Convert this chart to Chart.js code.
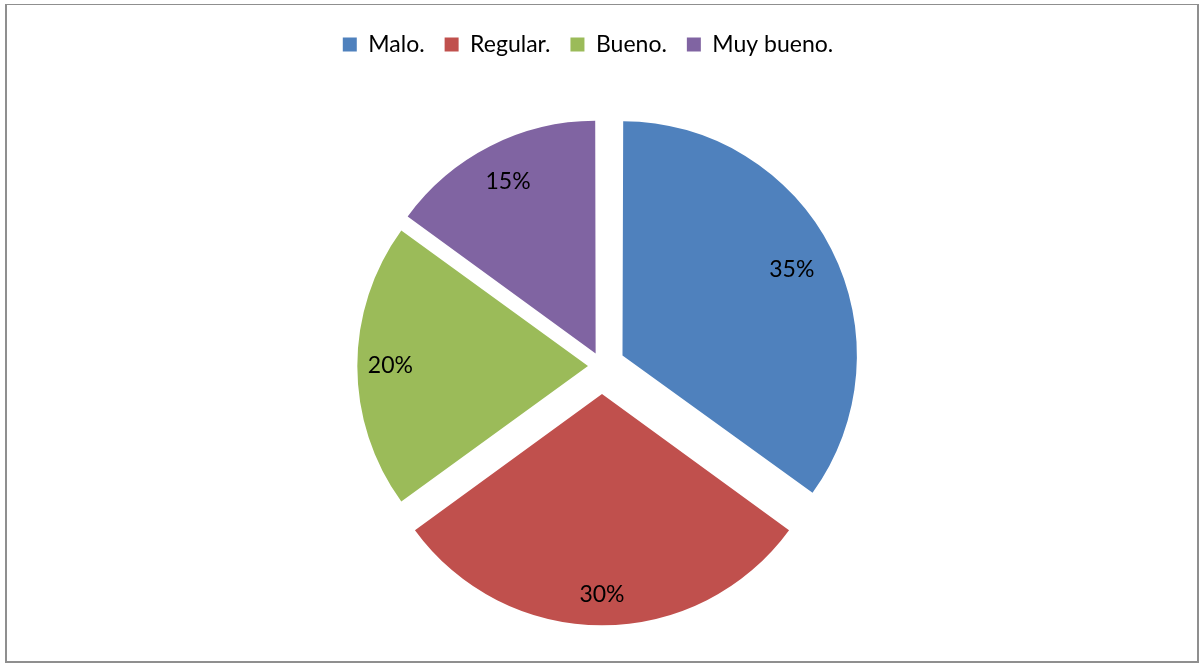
<!DOCTYPE html>
<html>
<head>
<meta charset="utf-8">
<script src="https://cdn.jsdelivr.net/npm/chart.js@4/dist/chart.umd.min.js"></script>
<style>
  html, body { margin: 0; padding: 0; background: #fff; overflow: hidden; }
  #wrap { position: relative; width: 1201px; height: 664px; }
  #chart { position: absolute; left: 0; top: 0; }
  #frame {
    position: absolute; left: 5px; top: 4px; width: 1194px; height: 659px;
    box-sizing: border-box; border-style: solid; border-color: #8f8f8f;
    border-width: 1px 2px 2px 2px; pointer-events: none;
  }
</style>
</head>
<body>
<div id="wrap">
  <canvas id="chart" width="1201" height="666"></canvas>
  <div id="frame"></div>
</div>
<script>
  const categories = ["Malo.", "Regular.", "Bueno.", "Muy bueno."];
  const values = [35, 30, 20, 15];
  const colors = ["#4f81bd", "#c0504d", "#9bbb59", "#8064a2"];

  // exploded slices: chart.js moves an arc by offset / 4
  const sliceOffsets = [92, 112, 56, 56];

  const pctLabels = {
    id: "pctLabels",
    afterDatasetsDraw(chart, args, opts) {
      const ctx = chart.ctx;
      const meta = chart.getDatasetMeta(0);
      const total = values.reduce((a, b) => a + b, 0);
      ctx.save();
      ctx.font = "23px Lato";
      ctx.fillStyle = "#000";
      ctx.textAlign = "center";
      ctx.textBaseline = "middle";
      meta.data.forEach((arc, i) => {
        const p = arc.getProps(["x", "y", "startAngle", "endAngle", "outerRadius"], true);
        const mid = (p.startAngle + p.endAngle) / 2;
        const shift = (arc.options.offset || 0) / 4;
        const r = p.outerRadius * opts.radius[i] + shift;
        const x = p.x + Math.cos(mid) * r;
        const y = p.y + Math.sin(mid) * r;
        ctx.fillText(Math.round(values[i] / total * 100) + "%", x, y);
      });
      ctx.restore();
    }
  };

  // legend in the original sits a little left of the pie centre
  const legendShift = {
    id: "legendShift",
    afterLayout(chart, args, opts) {
      if (chart.legend) {
        chart.legend.left -= opts.dx;
      }
    }
  };

  Chart.defaults.font.family = "Lato";
  Chart.defaults.color = "#000";

  new Chart(document.getElementById("chart"), {
    type: "pie",
    data: {
      labels: categories,
      datasets: [{
        data: values,
        backgroundColor: colors,
        borderWidth: 0,
        offset: sliceOffsets,
        hoverOffset: 0
      }]
    },
    options: {
      responsive: false,
      animation: false,
      devicePixelRatio: 1,
      radius: 230,
      layout: { padding: { top: 13, left: 3, right: 0, bottom: 0 } },
      plugins: {
        legend: {
          position: "top",
          labels: {
            boxWidth: 14,
            boxHeight: 14,
            padding: 20,
            font: { size: 23, family: "Lato" },
            color: "#000"
          }
        },
        tooltip: { enabled: false },
        pctLabels: { radius: [0.826, 0.874, 0.859, 0.839] },
        legendShift: { dx: 28 }
      }
    },
    plugins: [pctLabels, legendShift]
  });
</script>
</body>
</html>
